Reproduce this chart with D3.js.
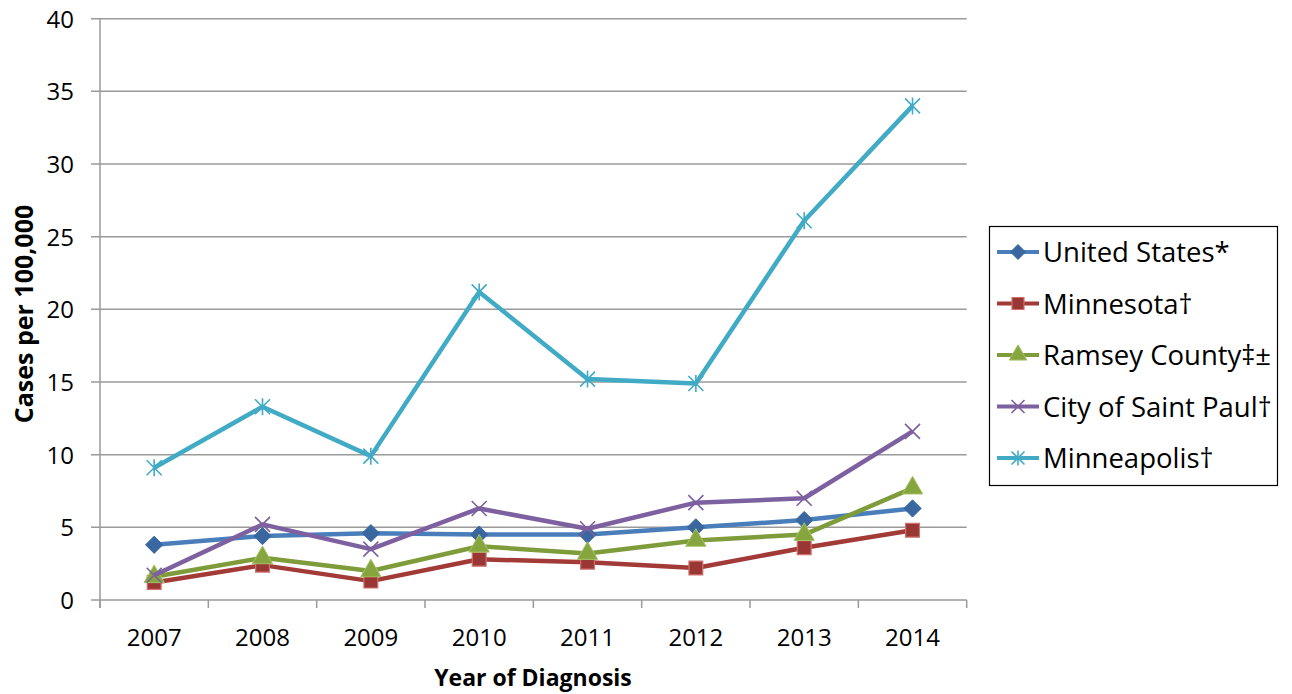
<!DOCTYPE html>
<html lang="en">
<head>
<meta charset="UTF-8">
<title>Cases per 100,000 by Year of Diagnosis</title>
<script src="https://d3js.org/d3.v7.min.js"></script>
<style>
  body { margin: 0; background: #fff; }
  text { font-family: "Open Sans", Lato, sans-serif; fill: #000; }
</style>
</head>
<body>
<svg width="1292" height="694"></svg>
<script>
const years = ["2007","2008","2009","2010","2011","2012","2013","2014"]
const yTicks = [0,5,10,15,20,25,30,35,40]

const unitedStates = [3.8,4.4,4.6,4.5,4.5,5.0,5.5,6.3]
const minnesota    = [1.2,2.4,1.3,2.8,2.6,2.2,3.6,4.8]
const ramsey       = [1.6,2.9,2.0,3.7,3.2,4.1,4.5,7.7]
const saintPaul    = [1.7,5.2,3.5,6.3,4.9,6.7,7.0,11.6]
const minneapolis  = [9.1,13.3,9.9,21.2,15.2,14.9,26.1,34.0]

const seriesNames = ["United States*","Minnesota\u2020","Ramsey County\u2021\u00b1","City of Saint Paul\u2020","Minneapolis\u2020"]
const seriesValues = [unitedStates, minnesota, ramsey, saintPaul, minneapolis]
const lineColors = ["#4A7EBB","#A23B37","#7E9C3A","#7D60A0","#41ABC6"]
const markerFill = ["#3A67A0","#983733","#86A53E","none","none"]
const markerStroke = ["#3A67A0","#D0706C","#A6C466","#7D60A0","#41ABC6"]
const markerType = ["diamond","square","triangle","x","star"]

const svg = d3.select("svg")
const plotLeft = 100, plotRight = 966.7, plotTop = 18.7, plotBottom = 600

const x = d3.scaleBand().domain(years).range([plotLeft, plotRight])
const y = d3.scaleLinear().domain([0,40]).range([plotBottom, plotTop])

// gridlines
svg.append("g").selectAll("line").data(yTicks).enter().append("line")
  .attr("x1", plotLeft - 9).attr("x2", plotRight)
  .attr("y1", d => y(d)).attr("y2", d => y(d))
  .attr("stroke", "#9a9a9a").attr("stroke-width", 1.5)

// y axis line
svg.append("line").attr("x1", plotLeft).attr("x2", plotLeft).attr("y1", plotTop).attr("y2", plotBottom + 8)
  .attr("stroke", "#9a9a9a").attr("stroke-width", 1.5)

// x tick marks at band edges
const edges = years.map(d => x(d)).concat([plotRight])
svg.append("g").selectAll("line").data(edges).enter().append("line")
  .attr("x1", d => d).attr("x2", d => d).attr("y1", plotBottom).attr("y2", plotBottom + 8)
  .attr("stroke", "#9a9a9a").attr("stroke-width", 1.5)

// y tick labels
svg.append("g").selectAll("text").data(yTicks).enter().append("text")
  .attr("x", 74).attr("y", d => y(d) + 9)
  .attr("text-anchor", "end").attr("font-size", 24)
  .text(d => d)

// x tick labels
svg.append("g").selectAll("text").data(years).enter().append("text")
  .attr("x", d => x(d) + x.bandwidth()/2).attr("y", 646)
  .attr("text-anchor", "middle").attr("font-size", 24)
  .text(d => d)

// axis titles
svg.append("text").attr("x", 533).attr("y", 686)
  .attr("text-anchor", "middle").attr("font-size", 23).attr("font-weight", "bold")
  .text("Year of Diagnosis")
svg.append("text").attr("transform", "translate(33,314) rotate(-90)")
  .attr("text-anchor", "middle").attr("font-size", 25).attr("font-weight", "bold")
  .text("Cases per 100,000")

function drawMarker(g, type, i, size) {
  const r = size/2
  if (type == "diamond") {
    const q = r * 1.15
    g.append("path").attr("d", `M0,${-q}L${q},0L0,${q}L${-q},0Z`)
      .attr("fill", markerFill[i]).attr("stroke", markerStroke[i])
  } else if (type == "square") {
    g.append("path").attr("d", d3.symbol(d3.symbolSquare, size*size*0.85)())
      .attr("fill", markerFill[i]).attr("stroke", markerStroke[i]).attr("stroke-width", 1.2)
  } else if (type == "triangle") {
    g.append("path").attr("d", d3.symbol(d3.symbolTriangle, size*size*0.8)())
      .attr("fill", markerFill[i]).attr("stroke", markerStroke[i]).attr("stroke-width", 1)
  } else {
    let p = `M${-r},${-r}L${r},${r}M${-r},${r}L${r},${-r}`
    if (type == "star") p += `M0,${-r-1}L0,${r+1}`
    g.append("path").attr("d", p).attr("fill", "none")
      .attr("stroke", markerStroke[i]).attr("stroke-width", 1.6)
  }
}

const line = d3.line().x((d,j) => x(years[j]) + x.bandwidth()/2).y(d => y(d))

seriesValues.forEach((vals, i) => {
  svg.append("path").datum(vals).attr("d", line)
    .attr("fill", "none").attr("stroke", lineColors[i]).attr("stroke-width", 4.5)
    .attr("stroke-linejoin", "round")
  const pts = svg.append("g").selectAll("g").data(vals).enter().append("g")
    .attr("transform", (d,j) => `translate(${x(years[j]) + x.bandwidth()/2},${y(d)})`)
  pts.each(function() { drawMarker(d3.select(this), markerType[i], i, 15) })
})

// legend
const leg = svg.append("g")
leg.append("rect").attr("x", 989.5).attr("y", 226.5).attr("width", 288).attr("height", 259)
  .attr("fill", "#fff").attr("stroke", "#000").attr("stroke-width", 1.2)
seriesNames.forEach((name, i) => {
  const cy = 252 + i * 51.5
  const g = leg.append("g")
  g.append("line").attr("x1", 997).attr("x2", 1039).attr("y1", cy).attr("y2", cy)
    .attr("stroke", lineColors[i]).attr("stroke-width", 4)
  const m = g.append("g").attr("transform", `translate(1018,${cy})`)
  drawMarker(m, markerType[i], i, 13)
  g.append("text").attr("x", 1043).attr("y", cy + 10).attr("font-size", 27.5).text(name)
})
</script>
</body>
</html>
